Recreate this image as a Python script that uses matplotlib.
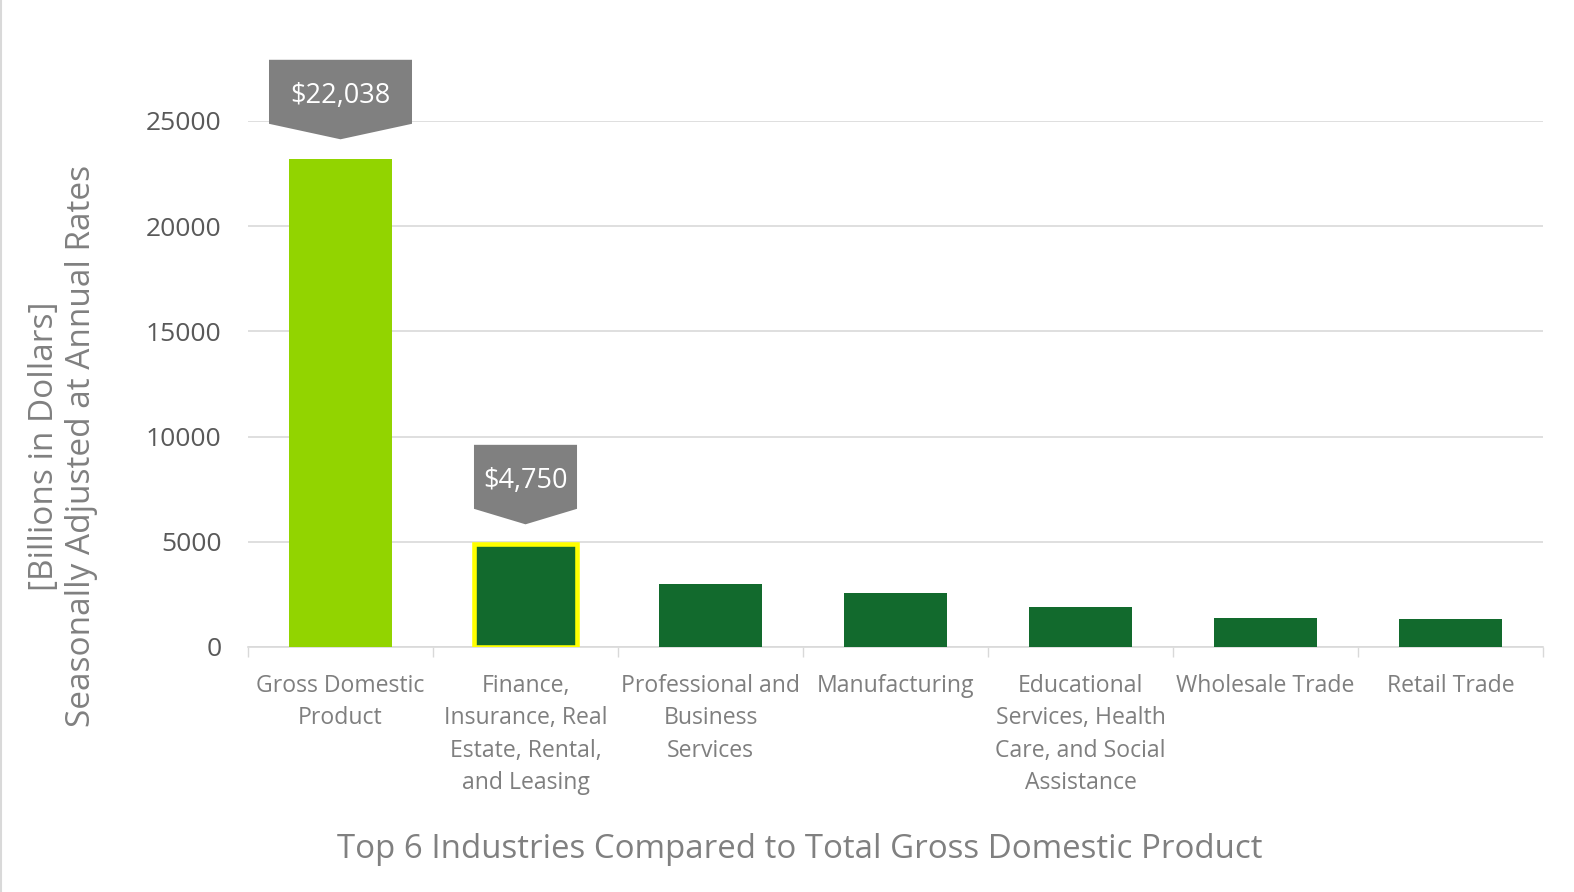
import matplotlib
matplotlib.use("Agg")
import matplotlib.pyplot as plt
from matplotlib.patches import Polygon
from matplotlib.lines import Line2D

categories = ["Gross Domestic\nProduct",
              "Finance,\nInsurance, Real\nEstate, Rental,\nand Leasing",
              "Professional and\nBusiness\nServices",
              "Manufacturing",
              "Educational\nServices, Health\nCare, and Social\nAssistance",
              "Wholesale Trade",
              "Retail Trade"]
values = [23180, 4880, 3000, 2570, 1900, 1380, 1330]
callout_idx = [0, 1]
callout_labels = ["$22,038", "$4,750"]
callout_widths = [0.773, 0.557]
yticks = [0, 5000, 10000, 15000, 20000, 25000]

plt.rcParams['font.family'] = ['Open Sans', 'DejaVu Sans']

fig = plt.figure(figsize=(15.74, 8.92), dpi=100)
ax = fig.add_axes([248/1574, 1-647/892, (1543-248)/1574, (647-121)/892])

x = list(range(len(categories)))
colors = ['#92D400'] + ['#126A2D'] * (len(categories) - 1)
bars = ax.bar(x, values, width=0.557, color=colors, zorder=3)
bars[1].set_edgecolor('#FFFF00')
bars[1].set_linewidth(3.3)

ax.set_xlim(-0.5, len(categories) - 0.5)
ax.set_ylim(0, 25000)
ax.set_yticks(yticks)
ax.set_yticklabels([str(v) for v in yticks])
ax.set_xticks(x)
ax.set_xticklabels(categories, fontsize=16.6, color='#7f7f7f', linespacing=1.46)
ax.set_xticks([i - 0.5 for i in range(len(categories) + 1)], minor=True)
ax.tick_params(axis='x', which='major', length=0, pad=19.5)
ax.tick_params(axis='x', which='minor', length=7.5, color='#d9d9d9', width=1)
ax.tick_params(axis='y', length=0, pad=19, labelsize=19, labelcolor='#595959')

for s in ['top', 'right', 'left']:
    ax.spines[s].set_visible(False)
ax.spines['bottom'].set_color('#d9d9d9')
ax.spines['bottom'].set_linewidth(1.2)
ax.grid(axis='y', color='#d9d9d9', linewidth=1.2, zorder=0)
ax.set_axisbelow(True)

unit = 25000 / 526.0  # data units per pixel
for idx, lab, w in zip(callout_idx, callout_labels, callout_widths):
    top_bar = values[idx]
    tip = top_bar + 20 * unit
    rb = tip + 15.5 * unit
    rt = rb + 64 * unit
    cx = x[idx]
    poly = Polygon([(cx - w/2, rt), (cx + w/2, rt), (cx + w/2, rb), (cx, tip), (cx - w/2, rb)],
                   closed=True, facecolor='#808080', edgecolor='none', clip_on=False, zorder=4)
    ax.add_patch(poly)
    ax.text(cx, (rb + rt) / 2 - 4 * unit, lab, ha='center', va='center', color='white',
            fontsize=19.5, zorder=5, clip_on=False)

fig.text(45/1574, 1-446/892, "[Billions in Dollars]", rotation=90, ha='center', va='center',
         fontsize=24, color='#808080')
fig.text(82/1574, 1-446/892, "Seasonally Adjusted at Annual Rates", rotation=90, ha='center', va='center',
         fontsize=24, color='#808080')
fig.text(800/1574, 1-850/892, "Top 6 Industries Compared to Total Gross Domestic Product",
         ha='center', va='center', fontsize=23.8, color='#808080')

fig.add_artist(Line2D([0.6/1574, 0.6/1574], [0, 1], transform=fig.transFigure, color='#d9d9d9', lw=1.5))

fig.savefig('out.png', dpi=100, facecolor='white')
